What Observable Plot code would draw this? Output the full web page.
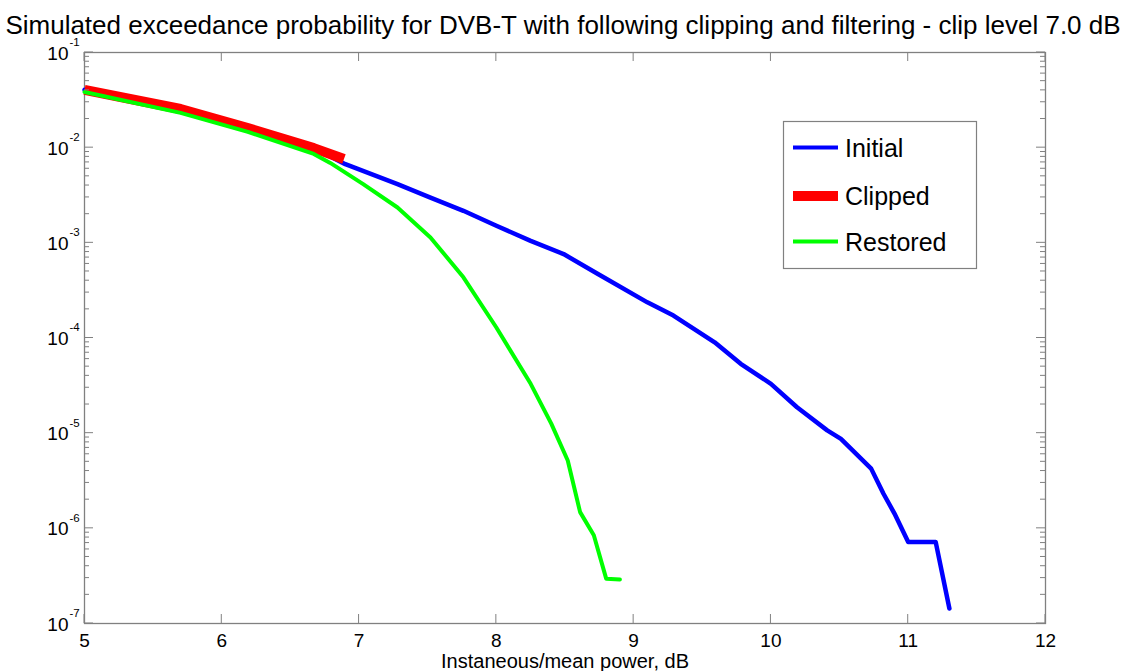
<!DOCTYPE html>
<html>
<head>
<meta charset="utf-8">
<script src="https://cdn.jsdelivr.net/npm/d3@7"></script>
<script src="https://cdn.jsdelivr.net/npm/@observablehq/plot@0.6"></script>
<style>
  html, body { margin: 0; padding: 0; background: #fff; }
  #chart svg { display: block; }
</style>
</head>
<body>
<div id="chart"></div>
<script>
// ---- data ----
const titleText = "Simulated exceedance probability for DVB-T with following clipping and filtering - clip level 7.0 dB";
const xLabel = "Instaneous/mean power, dB";
const xTicks = [5, 6, 7, 8, 9, 10, 11, 12];
const yTicks = [1e-7, 1e-6, 1e-5, 1e-4, 1e-3, 1e-2, 1e-1];
const yExponents = ["-7", "-6", "-5", "-4", "-3", "-2", "-1"];
const seriesNames = ["Initial", "Clipped", "Restored"];
const seriesColors = ["#0000ff", "#ff0000", "#00ff00"];

const initialX = [5.0, 5.7, 6.19, 6.67, 6.9, 7.28, 7.52, 7.76, 8.0, 8.25, 8.49, 8.74, 9.1, 9.29, 9.59, 9.78, 10.0, 10.19, 10.41, 10.51, 10.73, 10.82, 10.9, 11.0, 11.2, 11.3];
const initialP = [0.0405, 0.0255, 0.0161, 0.0099, 0.00671, 0.00414, 0.00299, 0.00217, 0.00151, 0.00105, 7.62e-4, 4.71e-4, 2.37e-4, 1.72e-4, 9.0e-5, 5.35e-5, 3.30e-5, 1.87e-5, 1.07e-5, 8.7e-6, 4.24e-6, 2.31e-6, 1.43e-6, 7.2e-7, 7.2e-7, 1.44e-7];

const clippedX = [5.0, 5.7, 6.19, 6.67, 6.89];
const clippedP = [0.0405, 0.0255, 0.0161, 0.0099, 0.0076];

const restoredX = [5.0, 5.7, 6.19, 6.67, 6.79, 7.03, 7.28, 7.52, 7.76, 8.0, 8.25, 8.4, 8.52, 8.61, 8.71, 8.8, 8.9];
const restoredP = [0.0385, 0.0232, 0.01466, 0.0086, 0.00692, 0.00414, 0.00235, 0.00114, 4.34e-4, 1.29e-4, 3.30e-5, 1.26e-5, 5.16e-6, 1.48e-6, 8.45e-7, 2.96e-7, 2.90e-7];

const toRows = (xs, ps) => xs.map((x, i) => ({x, p: ps[i]}));
const initialRows = toRows(initialX, initialP);
const clippedRows = toRows(clippedX, clippedP);
const restoredRows = toRows(restoredX, restoredP);

const FONT = "'Liberation Sans', Arial, Helvetica, sans-serif";

const plot = Plot.plot({
  width: 1125,
  height: 671,
  marginLeft: 84,
  marginRight: 80,
  marginTop: 52,
  marginBottom: 48,
  style: {fontFamily: FONT, background: "#fff", color: "#000", overflow: "visible"},
  x: {domain: [5, 12]},
  y: {type: "log", domain: [1e-7, 1e-1], axis: null},
  marks: [
    Plot.frame({stroke: "#808080", strokeWidth: 1.3}),
    Plot.axisX(xTicks, {tickSize: 0, tickPadding: 10, fontSize: 19, label: null, tickFormat: d => String(d)}),
    Plot.line(initialRows, {x: "x", y: "p", stroke: seriesColors[0], strokeWidth: 4.5, strokeLinejoin: "round"}),
    Plot.line(clippedRows, {x: "x", y: "p", stroke: seriesColors[1], strokeWidth: 10, strokeLinecap: "butt", strokeLinejoin: "round"}),
    Plot.line(restoredRows, {x: "x", y: "p", stroke: seriesColors[2], strokeWidth: 4, strokeLinejoin: "round"}),
    Plot.text(yTicks, {x: () => 5, y: d => d, text: () => "10", textAnchor: "end", dx: -16, dy: 1, fontSize: 19, fill: "#000"}),
    Plot.text(yTicks, {x: () => 5, y: d => d, text: (d, i) => yExponents[i], textAnchor: "start", lineAnchor: "bottom", dx: -15, dy: -6.6, fontSize: 11.5, fill: "#000"}),
    Plot.text([titleText], {frameAnchor: "top", text: d => d, lineAnchor: "bottom", dy: -19, dx: -2, fontSize: 26, fill: "#000"}),
    Plot.text([xLabel], {frameAnchor: "bottom", text: d => d, lineAnchor: "bottom", dy: 44, fontSize: 20, fill: "#000"})
  ]
});

// inward MATLAB-style ticks on all four sides, placed through the plot's scales
const sx = plot.scale("x"), sy = plot.scale("y");
const svgSel = d3.select(plot);
const fLeft = sx.apply(5), fRight = sx.apply(12), fTop = sy.apply(1e-1), fBottom = sy.apply(1e-7);
const tg = svgSel.append("g").attr("stroke", "#808080").attr("stroke-width", 1);
xTicks.forEach(v => {
  const px = sx.apply(v);
  tg.append("line").attr("x1", px).attr("x2", px).attr("y1", fBottom).attr("y2", fBottom - 9);
  tg.append("line").attr("x1", px).attr("x2", px).attr("y1", fTop).attr("y2", fTop + 9);
});
for (let e = -7; e <= -1; e++) {
  for (let m = 1; m <= 9; m++) {
    if (e === -1 && m > 1) break;
    const v = m * Math.pow(10, e);
    const py = sy.apply(v);
    const len = m === 1 ? 9 : 5;
    tg.append("line").attr("x1", fLeft).attr("x2", fLeft + len).attr("y1", py).attr("y2", py);
    tg.append("line").attr("x1", fRight).attr("x2", fRight - len).attr("y1", py).attr("y2", py);
  }
}

// legend box
const lg = svgSel.append("g").attr("font-family", FONT).attr("text-anchor", "start");
lg.append("rect").attr("x", 783.5).attr("y", 121.5).attr("width", 193).attr("height", 147)
  .attr("fill", "#fff").attr("stroke", "#808080").attr("stroke-width", 1.2);
const legendY = [147.5, 196, 241.5];
const legendW = [4, 10, 4];
seriesNames.forEach((name, i) => {
  lg.append("line").attr("x1", 793).attr("x2", 838).attr("y1", legendY[i]).attr("y2", legendY[i])
    .attr("stroke", seriesColors[i]).attr("stroke-width", legendW[i]);
  lg.append("text").attr("x", 845).attr("y", legendY[i]).attr("dy", "0.36em")
    .attr("text-anchor", "start").attr("font-size", 25).attr("fill", "#000").text(name);
});

document.getElementById("chart").appendChild(plot);
</script>
</body>
</html>
